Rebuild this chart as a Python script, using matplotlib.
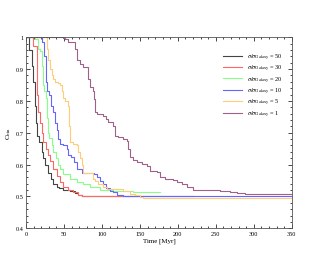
import matplotlib
matplotlib.use('Agg')
import matplotlib.pyplot as plt
from matplotlib.ticker import MultipleLocator, FormatStrFormatter

plt.rcParams['font.family'] = ['Liberation Serif', 'DejaVu Serif']
plt.rcParams['mathtext.fontset'] = 'stix'

# step curves (time in Myr, fraction)
t50 = [0, 4.4, 7.5, 9.6, 11.8, 13.2, 14.9, 17.5, 20.6, 22.8, 25, 29.4, 32.5, 36, 40.4, 43.9, 49, 58, 64.5, 68.9, 73.2, 220]
c50 = [1.0, 0.96, 0.91, 0.86, 0.785, 0.73, 0.69, 0.67, 0.64, 0.62, 0.60, 0.575, 0.555, 0.54, 0.53, 0.525, 0.52, 0.517, 0.51, 0.503, 0.502, 0.502]

t30 = [0, 9.6, 14.0, 14.9, 16.2, 18.4, 20.6, 22.8, 26.3, 29.4, 31.6, 36, 40.4, 44.7, 49.1, 55.7, 62.3, 68.9, 73.2, 150]
c30 = [1.0, 0.974, 0.92, 0.82, 0.765, 0.73, 0.70, 0.67, 0.65, 0.63, 0.61, 0.585, 0.565, 0.545, 0.53, 0.52, 0.513, 0.503, 0.50, 0.50]

t20 = [0, 11.8, 16.2, 18.4, 20.6, 21.9, 23.7, 26.3, 27.2, 28.5, 30.7, 33.8, 36, 39.5, 42.5, 44.7, 49.1, 57.9, 66.7, 75.4, 84.2, 97.4, 114.9, 141.2, 177]
c20 = [1.0, 0.995, 0.963, 0.958, 0.91, 0.85, 0.83, 0.81, 0.745, 0.70, 0.685, 0.66, 0.64, 0.62, 0.60, 0.585, 0.57, 0.555, 0.545, 0.54, 0.53, 0.52, 0.518, 0.515, 0.515]

t10 = [0, 20.6, 24.1, 25.9, 27.2, 30.7, 32.5, 36, 38.2, 40.4, 42.5, 44.7, 49.1, 53.5, 55.7, 58.8, 63.2, 67.5, 73.2, 80.7, 89.5, 93, 97.4, 101.8, 105.3, 110.5, 114.9, 119.3, 128, 350]
c10 = [1.0, 0.985, 0.94, 0.86, 0.83, 0.82, 0.785, 0.765, 0.73, 0.71, 0.68, 0.665, 0.66, 0.65, 0.63, 0.623, 0.607, 0.585, 0.575, 0.574, 0.57, 0.56, 0.547, 0.54, 0.526, 0.518, 0.513, 0.505, 0.502, 0.502]

t5 = [0, 27.2, 29.4, 31.6, 33.8, 36, 38.2, 42.5, 44.7, 46.9, 49.1, 51.3, 55.7, 57, 57.9, 62.3, 66.7, 68.9, 71, 73.2, 75.4, 88.6, 90.8, 95.2, 101.8, 106.1, 119.3, 128, 136.8, 143.4, 150, 154.4, 167.5, 350]
c5 = [1.0, 0.963, 0.93, 0.90, 0.88, 0.87, 0.86, 0.855, 0.85, 0.83, 0.81, 0.80, 0.785, 0.72, 0.67, 0.665, 0.66, 0.64, 0.62, 0.60, 0.575, 0.555, 0.547, 0.54, 0.53, 0.524, 0.522, 0.516, 0.508, 0.503, 0.497, 0.495, 0.494, 0.494]

t1 = [0, 49.1, 51.3, 55.7, 60.1, 64.5, 66.7, 71.1, 75.4, 82, 84.2, 87.7, 89.5, 90.8, 93, 101.8, 105.3, 108.3, 114.9, 117.1, 121.5, 128.1, 133.3, 134.6, 136.8, 141.2, 145.6, 152.2, 158.8, 163.2, 171.9, 176.3, 182.9, 193.9, 198.2, 204.8, 211.4, 220.2, 255.3, 268.4, 277.2, 288.2, 350]
c1 = [1.0, 0.997, 0.993, 0.986, 0.984, 0.963, 0.93, 0.916, 0.906, 0.87, 0.843, 0.832, 0.806, 0.764, 0.76, 0.754, 0.743, 0.733, 0.722, 0.69, 0.686, 0.68, 0.675, 0.65, 0.623, 0.613, 0.607, 0.602, 0.597, 0.581, 0.576, 0.56, 0.555, 0.55, 0.545, 0.54, 0.53, 0.52, 0.518, 0.513, 0.511, 0.508, 0.508]

ratios = ['50', '30', '20', '10', '5', '1']
times = [t50, t30, t20, t10, t5, t1]
fracs = [c50, c30, c20, c10, c5, c1]
colors = ['#444444', '#ff6666', '#88ff88', '#6666ff', '#ffcc77', '#a0608e']

fig = plt.figure(figsize=(3.29, 2.55), dpi=100)
ax = fig.add_axes([0.079, 0.101, 0.808, 0.749])

for t, c, r, col in zip(times, fracs, ratios, colors):
    ax.plot(t, c, drawstyle='steps-post', color=col, linewidth=0.8,
            label=r'$\sigma/\sigma_{\rm Galaxy}$ = ' + r)

ax.set_xlim(0, 350)
ax.set_ylim(0.4, 1.0)
ax.xaxis.set_major_locator(MultipleLocator(50))
ax.xaxis.set_minor_locator(MultipleLocator(10))
ax.yaxis.set_major_locator(MultipleLocator(0.1))
ax.yaxis.set_minor_locator(MultipleLocator(0.02))
ax.yaxis.set_major_formatter(FormatStrFormatter('%g'))
ax.tick_params(which='both', direction='in', top=True, right=True, labelsize=4.5, pad=2)
ax.tick_params(which='major', length=3, width=0.5)
ax.tick_params(which='minor', length=1.5, width=0.5)
for s in ax.spines.values():
    s.set_linewidth(0.6)
    s.set_color('#555555')

ax.set_xlabel('Time [Myr]', fontsize=5, labelpad=1)
ax.set_ylabel(r'C$_{\rm bin}$', fontsize=5, labelpad=2)

ax.legend(loc='upper right', bbox_to_anchor=(0.985, 0.955), frameon=False, fontsize=4.5,
          handlelength=3.0, labelspacing=0.2, handletextpad=0.8)

fig.savefig('out.png', dpi=100)
